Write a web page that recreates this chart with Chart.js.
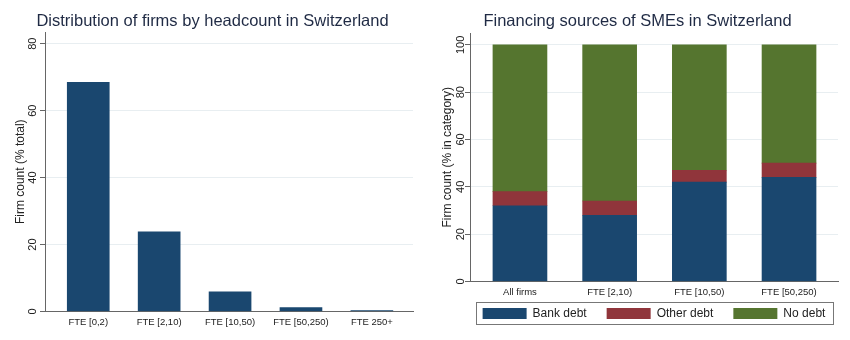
<!DOCTYPE html>
<html>
<head>
<meta charset="utf-8">
<script src="https://cdn.jsdelivr.net/npm/chart.js@4.4.1/dist/chart.umd.min.js"></script>
<style>
  html, body { margin: 0; padding: 0; background: #fff; }
  .row { display: flex; width: 850px; height: 340px; }
  .cell { position: relative; width: 425px; height: 340px; }
</style>
</head>
<body>
<div class="row">
  <div class="cell"><canvas id="canvas-1"></canvas></div>
  <div class="cell"><canvas id="canvas-2"></canvas></div>
</div>
<script>
// firms by headcount, % of all firms
var sizeLabels = ['FTE [0,2)', 'FTE [2,10)', 'FTE [10,50)', 'FTE [50,250)', 'FTE 250+'];
var sizeShares = [68.5, 23.8, 5.9, 1.2, 0.3];
var sizeTicks = [0, 20, 40, 60, 80];

// financing sources, % within each size class
var finLabels = ['All firms', 'FTE [2,10)', 'FTE [10,50)', 'FTE [50,250)'];
var bankDebt = [32, 28, 42, 44];
var otherDebt = [6, 6, 5, 6];
var noDebt = [62, 66, 53, 50];
var finTicks = [0, 20, 40, 60, 80, 100];

var navy = '#1a476f', maroon = '#90353b', forest = '#55752f';
var axisGray = '#666', gridColor = '#e8eef1', textDark = '#222', titleColor = '#1f2a44';

Chart.defaults.font.family = "'Liberation Sans', Arial, sans-serif";
Chart.defaults.color = textDark;
Chart.defaults.animation = false;

function points(values) {
  return values.map(function (v, i) { return { x: i, y: v }; });
}

// category axis built on a linear scale so the outer gaps can be set freely
function catAxis(labels, min, max, height) {
  return {
    type: 'linear', min: min, max: max, stacked: true, offset: false,
    afterBuildTicks: function (s) { s.ticks = labels.map(function (l, i) { return { value: i }; }); },
    afterFit: function (s) { s.height = height; },
    grid: { display: false, drawTicks: false },
    border: { color: axisGray, width: 1 },
    ticks: {
      padding: 5, color: textDark, font: { size: 9.5 }, maxRotation: 0, autoSkip: false,
      callback: function (v) { return labels[v]; }
    }
  };
}

function valueAxis(tickVals, max, title, labelPad, titlePad) {
  return {
    min: 0, max: max, stacked: true,
    afterBuildTicks: function (s) { s.ticks = tickVals.map(function (v) { return { value: v }; }); },
    afterFit: function (s) { s.width = 45; },
    grid: { color: gridColor, tickColor: axisGray, tickLength: 5 },
    border: { color: axisGray, width: 1 },
    ticks: {
      minRotation: 90, maxRotation: 90, crossAlign: 'center', padding: labelPad,
      color: textDark, font: { size: 11 }
    },
    title: {
      display: true, text: title, color: textDark, font: { size: 12 },
      padding: { top: titlePad, bottom: 0 }
    }
  };
}

// centre the title on the canvas, the legend on the plot, and box the legend in
var boxes = {
  id: 'boxes',
  beforeDraw: function (chart) {
    chart.titleBlock.left = 0;
    chart.titleBlock.right = chart.width;
    var lg = chart.legend;
    if (lg && lg.options.display) {
      var shift = (chart.chartArea.left + chart.chartArea.right) / 2 - (lg.left + lg.right) / 2;
      lg.left += shift;
      lg.right += shift;
      var lift = lg.top - (chart.chartArea.bottom + 6);
      lg.top -= lift;
      lg.bottom -= lift;
    }
  },
  afterDraw: function (chart) {
    var lg = chart.legend;
    if (!lg || !lg.options.display || !lg.lineWidths) return;
    var pad = lg.options.labels.padding;
    var half = (lg.lineWidths[0] - pad) / 2;
    var mid = (lg.left + lg.right) / 2;
    var x0 = mid - half - 7, x1 = mid + half + 7;
    var y0 = lg.top + pad - 6;
    var ctx = chart.ctx;
    ctx.save();
    ctx.strokeStyle = '#777';
    ctx.lineWidth = 1;
    ctx.strokeRect(Math.round(x0) + 0.5, Math.round(y0) + 0.5, Math.round(x1 - x0), 22);
    ctx.restore();
  }
};

function titleOpts(text, bottom) {
  return {
    display: true, text: text, color: titleColor,
    font: { size: 16.5, weight: 'normal' },
    padding: { top: 11.5, bottom: bottom }
  };
}

new Chart(document.getElementById('canvas-1'), {
  type: 'bar',
  data: {
    datasets: [{
      label: 'Firm count',
      data: points(sizeShares),
      backgroundColor: navy,
      borderWidth: 0,
      barThickness: 42
    }]
  },
  options: {
    responsive: true,
    maintainAspectRatio: false,
    layout: { padding: { left: 0, right: 12, top: 0, bottom: 0 } },
    scales: {
      x: catAxis(sizeLabels, -0.61, 4.58, 28.5),
      y: valueAxis(sizeTicks, 83.5, 'Firm count (% total)', 0.5, 13)
    },
    plugins: {
      title: titleOpts('Distribution of firms by headcount in Switzerland', 0.7),
      legend: { display: false },
      tooltip: { enabled: false }
    }
  },
  plugins: [boxes]
});

new Chart(document.getElementById('canvas-2'), {
  type: 'bar',
  data: {
    datasets: [
      { label: 'Bank debt', data: points(bankDebt), backgroundColor: navy, borderWidth: 0, barThickness: 54 },
      { label: 'Other debt', data: points(otherDebt), backgroundColor: maroon, borderWidth: 0, barThickness: 54 },
      { label: 'No debt', data: points(noDebt), backgroundColor: forest, borderWidth: 0, barThickness: 54 }
    ]
  },
  options: {
    responsive: true,
    maintainAspectRatio: false,
    layout: { padding: { left: 0, right: 12, top: 0, bottom: 0 } },
    scales: {
      x: catAxis(finLabels, -0.557, 3.546, 19),
      y: valueAxis(finTicks, 105, 'Firm count (% in category)', -5, 15)
    },
    plugins: {
      title: titleOpts('Financing sources of SMEs in Switzerland', 1.7),
      legend: {
        position: 'bottom',
        maxHeight: 39.5,
        labels: {
          boxWidth: 44, boxHeight: 11, padding: 20,
          color: textDark, font: { size: 12 }
        }
      },
      tooltip: { enabled: false }
    }
  },
  plugins: [boxes]
});
</script>
</body>
</html>
